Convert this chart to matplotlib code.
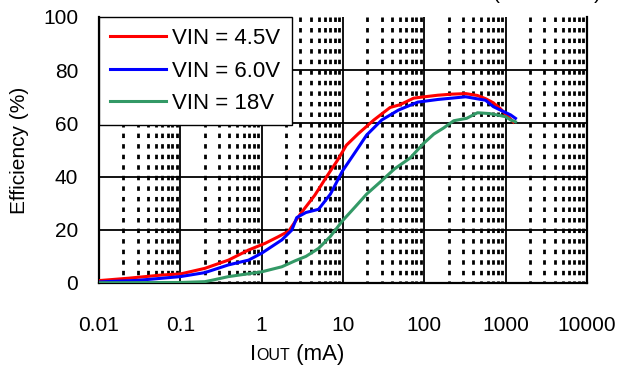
import matplotlib
matplotlib.use("Agg")
import matplotlib.pyplot as plt
import numpy as np

plt.rcParams['font.family'] = ['Liberation Sans', 'DejaVu Sans']
plt.rcParams['lines.scale_dashes'] = False

# efficiency vs output current
iout_45 = [0.01, 0.023, 0.059, 0.1, 0.2, 0.39, 0.69, 1.1, 1.6, 2.15, 3.0, 4.5, 6.3, 8.5,
           11, 15.5, 24, 38, 50, 74, 100, 147, 220, 323, 450, 565, 700, 850, 1000, 1250]
eff_45 = [0.9, 1.8, 3.0, 3.4, 5.5, 8.6, 12.4, 14.9, 17.4, 19.5, 26, 33, 40, 46,
          51.8, 56.2, 61.3, 66, 67, 69.5, 70, 70.6, 71, 71.2, 70.5, 69.3, 67.8, 65.7, 63.5, 60.5]

iout_60 = [0.01, 0.03, 0.1, 0.2, 0.39, 0.69, 1.0, 1.77, 2.35, 2.7, 3.5, 5.0, 7.0, 9.8,
           15.5, 19.5, 30, 48, 83, 147, 323, 565, 705, 890, 1150, 1320]
eff_60 = [0.4, 1.0, 2.4, 3.9, 6.8, 8.6, 11.2, 16.2, 19.9, 24.6, 26.5, 27.7, 33.4, 42,
          51, 55.6, 61.3, 65, 68, 69, 70, 68.7, 66.3, 64.8, 63.2, 61.9]

iout_18 = [0.01, 0.1, 0.2, 0.25, 0.39, 1.0, 1.77, 2.6, 3.5, 5.0, 7.0, 9.8, 14, 19.5,
           30, 43, 67, 98, 131, 171, 230, 331, 450, 630, 780, 1000, 1150, 1320]
eff_18 = [0.1, 0.2, 0.5, 1.1, 2.4, 4.2, 6.1, 8.4, 10, 13, 17.5, 23.3, 28.5, 33.4,
          38.5, 42.9, 47, 52.5, 56, 58.2, 61, 61.9, 64, 63.7, 63.2, 62.5, 61.3, 60.6]

labels = ['VIN = 4.5V', 'VIN = 6.0V', 'VIN = 18V']
colors = ['#ff0000', '#0000ff', '#339966']

x_ticks = [0.01, 0.1, 1, 10, 100, 1000, 10000]
x_ticklabels = ['0.01', '0.1', '1', '10', '100', '1000', '10000']
y_ticks = [0, 20, 40, 60, 80, 100]

fig = plt.figure(figsize=(6.24, 3.69), dpi=100)
ax = fig.add_axes([99 / 624, 1 - 283 / 369, 488 / 624, 266 / 369])
ax.set_xscale('log')
ax.set_xlim(0.01, 10000)
ax.set_ylim(0, 100)

# minor grid: dashed verticals at 2..9 of each decade
for dec in x_ticks[:-1]:
    for m in range(2, 10):
        ax.plot([dec * m, dec * m], [100, 0], color='black', lw=2.0,
                linestyle=(0, (3.2, 4.4)), zorder=1)
# major grid
for xv in x_ticks[1:-1]:
    ax.axvline(xv, color='black', lw=1.3, zorder=1.5)
for yv in y_ticks[1:-1]:
    ax.axhline(yv, color='black', lw=1.3, zorder=1.5)

ax.plot(iout_45, eff_45, color=colors[0], lw=2.2, label=labels[0], zorder=3)
ax.plot(iout_60, eff_60, color=colors[1], lw=2.2, label=labels[1], zorder=3)
ax.plot(iout_18, eff_18, color=colors[2], lw=2.2, label=labels[2], zorder=3)

ax.set_xticks(x_ticks)
ax.set_xticklabels(x_ticklabels)
ax.set_xticks([], minor=True)
ax.set_yticks(y_ticks)
ax.tick_params(axis='both', length=0, labelsize=15)
ax.tick_params(axis='x', pad=24)
ax.tick_params(axis='y', pad=15)

for side in ['left', 'bottom', 'right']:
    ax.spines[side].set_linewidth(1.6)
ax.spines['top'].set_visible(False)

leg = ax.legend(loc='upper left', bbox_to_anchor=(0, 1), borderaxespad=0,
                fontsize=16, handlelength=2.5, handletextpad=0.3,
                labelspacing=0.52, borderpad=0.5, fancybox=False,
                framealpha=1, edgecolor='black')
leg.get_frame().set_linewidth(1.0)
leg.set_zorder(5)

fig.text(20 / 624, 1 - 150 / 369, 'Efficiency (%)', rotation=90,
         ha='center', va='center', fontsize=15)

# x label with small-caps style "OUT", all on one baseline
y_lab = 1 - 360 / 369
fig.canvas.draw()
t1 = fig.text(250 / 624, y_lab, 'I', fontsize=16, va='baseline')
r = fig.canvas.get_renderer()
x2 = t1.get_window_extent(r).x1 / fig.bbox.width
t2 = fig.text(x2, y_lab, 'OUT', fontsize=11.5, va='baseline')
x3 = t2.get_window_extent(r).x1 / fig.bbox.width
fig.text(x3, y_lab, ' (mA)', fontsize=16, va='baseline')

# title clipped at the top edge, as in the reference
fig.text(493 / 624, 1 + 1 / 369, '(TA = 25°C)', fontsize=15, va='baseline')

fig.savefig('out.png', dpi=100)
